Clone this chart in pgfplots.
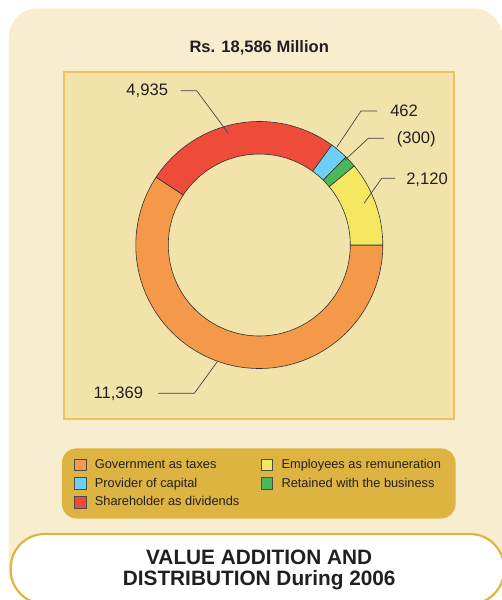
\documentclass[border=0pt]{standalone}
\usepackage{pgfplots}
\pgfplotsset{compat=1.18}
\usepackage{pgfplotstable}
\usepackage{fontspec}
\setmainfont{Liberation Sans}

\definecolor{cream}{HTML}{F8EECF}
\definecolor{panel}{HTML}{F2E3AA}
\definecolor{panelborder}{HTML}{E8C55E}
\definecolor{legcol}{HTML}{DDB441}
\definecolor{pillborder}{HTML}{DFB33E}
\definecolor{txt}{HTML}{231F20}
\definecolor{col0}{HTML}{F4994A}
\definecolor{col1}{HTML}{EE4B3B}
\definecolor{col2}{HTML}{6DCFF6}
\definecolor{col3}{HTML}{4DB75B}
\definecolor{col4}{HTML}{F6E762}

% Value addition and distribution 2006 (Rs. million); retained (300) is negative, drawn by size
\pgfplotstableread{
name value
Government 11369
Shareholder 4935
Provider 462
Retained 300
Employees 2120
}\donutdata

\begin{document}
\begin{tikzpicture}[x=0.75pt,y=0.75pt]
\useasboundingbox (0,0) rectangle (502,600);
\clip (0,0) rectangle (502,600);

% total and angles (clockwise from east), computed in thousands
\xdef\total{0}
\foreach \i in {0,...,4}{%
  \pgfplotstablegetelem{\i}{value}\of\donutdata
  \pgfmathsetmacro\t{\total+\pgfplotsretval/1000}\xdef\total{\t}}
\xdef\cum{0}
\foreach \i in {0,...,4}{%
  \pgfplotstablegetelem{\i}{value}\of\donutdata
  \pgfmathsetmacro\v{\pgfplotsretval/1000}
  \pgfmathsetmacro\a{-360*\cum/\total}
  \pgfmathsetmacro\b{-360*(\cum+\v)/\total}
  \expandafter\xdef\csname as\i\endcsname{\a}
  \expandafter\xdef\csname ae\i\endcsname{\b}
  \pgfmathsetmacro\c{\cum+\v}\xdef\cum{\c}}

% backgrounds
\fill[cream] (8.7,20) [rounded corners=21.75pt] -- (8.7,591.7) -- (502.5,591.7) [sharp corners] -- (502.5,20) -- cycle;
\filldraw[fill=panel, draw=panelborder, line width=1pt] (64,181) rectangle (454,528);

\node[font=\bfseries\fontsize{12.4}{14}\selectfont, text=txt, anchor=base, inner sep=0pt] at (259.2,547.3) {Rs. 18,586 Million};

\begin{axis}[
  at={(48pt,135.75pt)}, anchor=south west,
  scale only axis, width=292.5pt, height=260.25pt,
  xmin=64, xmax=454, ymin=181, ymax=528,
  hide axis, clip=false,
  legend columns=2,
  legend cell align=left,
  legend image code/.code={\draw[#1, sharp corners, draw=black!70, line width=0.4pt] (0pt,-4.4pt) rectangle (8.8pt,4.4pt);},
  legend style={
    at={(-0.006,-0.084)}, anchor=north west,
    draw=none, fill=legcol, rounded corners=11pt,
    font=\fontsize{9.6}{11}\selectfont, text=txt,
    inner xsep=9pt, inner ysep=6pt, row sep=1.6pt,
    /tikz/every odd column/.append style={column sep=4.5pt},
    /tikz/every even column/.append style={column sep=14pt},
  },
]
\pgfplotsinvokeforeach{0,...,4}{%
  \edef\temp{\noexpand\draw[fill=col#1, draw=black!80, line width=0.45pt]
    (axis cs:259.3,355) ++(\csname as#1\endcsname:92.625pt)
    arc[start angle=\csname as#1\endcsname, end angle=\csname ae#1\endcsname, radius=92.625pt]
    -- ++(\csname ae#1\endcsname+180:24.375pt)
    arc[start angle=\csname ae#1\endcsname, end angle=\csname as#1\endcsname, radius=68.25pt]
    -- cycle;}%
  \temp
}

\addlegendimage{fill=col0}\addlegendentry{Government as taxes}
\addlegendimage{fill=col4}\addlegendentry{Employees as remuneration}
\addlegendimage{fill=col2}\addlegendentry{Provider of capital}
\addlegendimage{fill=col3}\addlegendentry{Retained with the business}
\addlegendimage{fill=col1}\addlegendentry{Shareholder as dividends}

% leader lines
\draw[black!75, line width=0.5pt] (axis cs:180.7,509.3) -- (axis cs:196.7,509.3) -- (axis cs:228.3,466.7);
\draw[black!75, line width=0.5pt] (axis cs:377.3,489) -- (axis cs:361,489) -- (axis cs:336.7,452.7);
\draw[black!75, line width=0.5pt] (axis cs:384,461.7) -- (axis cs:368.3,461.7) -- (axis cs:345,440);
\draw[black!75, line width=0.5pt] (axis cs:395,421.7) -- (axis cs:381.7,421.7) -- (axis cs:364,396.7);
\draw[black!75, line width=0.5pt] (axis cs:158.3,206.7) -- (axis cs:194.3,206.7) -- (axis cs:217.3,238.3);

% value labels
\begin{scope}[every node/.style={font=\fontsize{12.45}{14}\selectfont, text=txt, inner sep=0pt}]
\node[anchor=base east] at (axis cs:168.3,504) {4,935};
\node[anchor=base west] at (axis cs:390,483.3) {462};
\node[anchor=base west] at (axis cs:396.7,456.7) {(300)};
\node[anchor=base west] at (axis cs:406,415.7) {2,120};
\node[anchor=base west] at (axis cs:93.3,201.7) {11,369};
\end{scope}
\end{axis}

% bottom pill
\filldraw[fill=white, draw=pillborder, line width=1.6pt, rounded corners=25.5pt] (10.7,-4) rectangle (504,66);
\node[font=\bfseries\fontsize{15.6}{15}\selectfont, text=txt, anchor=base, inner sep=0pt] at (259.2,36) {VALUE ADDITION AND};
\node[font=\bfseries\fontsize{15.6}{15}\selectfont, text=txt, anchor=base, inner sep=0pt] at (259.2,15) {DISTRIBUTION During 2006};
\end{tikzpicture}
\end{document}
